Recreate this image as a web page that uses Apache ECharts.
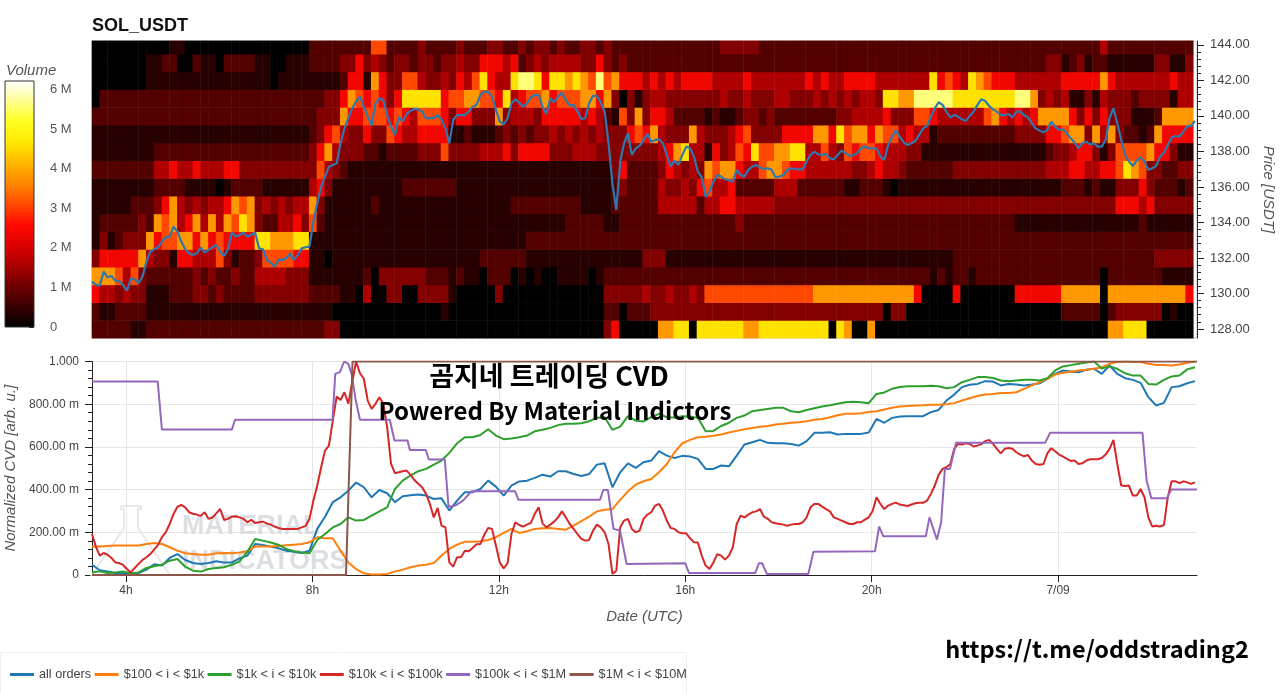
<!DOCTYPE html>
<html><head><meta charset="utf-8">
<style>html,body{margin:0;padding:0;background:#fff}#c{width:1280px;height:693px}</style>
<script src="https://cdn.jsdelivr.net/npm/echarts@6/dist/echarts.min.js"></script>
</head><body><div id="c"></div>
<script>
// Volume heat map: one list per price row; each digit is a colour level, 10-minute columns
const volumeLevels = [0, 0.35, 0.75, 1.2, 1.6, 2.4, 3.1, 3.8, 4.6, 5.6];
const priceRows = [128,129,130,131,132,133,134,135,136,137,138,139,140,141,142,143,144];
const row144 = "0000000000 1100000000 0000000022 2222226622 2232222322 2332232332 3223323222 2222222222 2333332222 2222222222 2222222222 2222222222 2222222222 4222222222 22";
const row143 = "0000000112 2002110222 2110011122 2233534323 3233233433 5554523434 4443353232 2222222222 2222222222 2222222222 2222222222 2222222222 2223312312 2111111331 13";
const row142 = "0000000111 1111111111 1110111111 1125517533 6643343546 8544899858 8787696755 5454545555 4444544444 4454544555 5444444485 6548765554 4444455555 7544444445 44";
const row141 = "0222222222 2222222222 2222222222 3357656535 8888856677 6658456675 6667757303 1344333333 3433433344 3334343434 4388779999 9888888889 9734341131 4333233331 44";
const row140 = "2222222222 2222222222 2222222223 3375566656 5466653553 3373444355 5554542163 7355422221 2112332322 2222223344 4453336654 4444467545 4577775353 5333111277 77";
const row139 = "1111111111 1111111111 1111111123 5643353365 4455551121 1123232334 3434343335 6574333743 3345633335 5557758677 5766454412 2222222223 3335567737 4732212755 55";
const row138 = "1111111122 2222222222 2222222235 7433322122 2233363333 4445355553 3344433333 3334578441 5346586677 8844643656 6544433111 1111111111 1112334553 1366667553 11";
const row137 = "2222222244 5445444553 3333333336 4321111111 1111111111 1111111111 1111111352 2223543437 6775446776 5544444433 4544322222 2333333333 3334445544 5568763322 33";
const row136 = "1111111122 2211110122 2211111145 3111111111 2222222111 1111111111 1111111232 2224334356 4452222244 4222222112 2210111111 1111111111 1111122212 1133353222 12";
const row135 = "1111122235 7434344576 7343434473 1111112111 1111111111 1111222222 2221111222 2224444424 4554444433 3333333333 3333333333 3333333333 3333333333 3355545333 33";
const row134 = "1222223276 7457474768 7322445362 1111111111 1111111111 1111111111 1222221122 2222222222 2223222222 2222222222 2222222222 2222222221 1111111111 1111121111 11";
const row133 = "1312333756 6775756555 5887778811 1111111111 1111111111 1111112222 2222222222 2222222222 2222222222 2222222222 2222222222 2222222222 2222222222 2222222222 22";
const row132 = "3555557433 1554446312 2366665511 0111111111 1111111111 2222221111 1111111111 1333111111 1111111111 1111111111 1111111111 1222222222 2222222222 2222222333 33";
const row131 = "7776463222 2223232232 2444433311 1111120333 3332221211 0222010100 1111012222 2222222222 2222222222 2222222222 2222222212 1221222222 2222222222 0222222211 11";
const row130 = "5443433111 2223323222 2333333322 2211040033 0033331000 0030000000 0000003333 3433433436 6666666666 6667777777 7777775000 0500000005 5555577777 0777777777 75";
const row129 = "2112222111 1111111111 1111111111 1000000000 0000010000 0000000000 0000002202 2233333333 3333333333 3333333333 3303300000 0000000000 0000022222 0233333301 00";
const row128 = "2222211222 2222222222 2222222222 3300000000 0000000000 0000000000 0000003500 0007788088 8888778888 8888808700 7000000000 0000000000 0000000000 0778880000 00";
const volumeRowsByPrice = [row128,row129,row130,row131,row132,row133,row134,row135,row136,row137,row138,row139,row140,row141,row142,row143,row144];
const hotColors = ['#000000','#3a0000','#700000','#aa0000','#dd0000','#ff0a00','#ff4a00','#ff8800','#ffb800','#ffe800','#ffff20','#ffff90','#ffffff'];

// Price (USDT), every 5 minutes
const price = [130.67,130.48,130.44,131.23,130.91,130.98,130.72,130.68,130.48,130.16,130.83,130.80,130.57,130.95,131.79,132.35,132.49,132.60,132.92,133.16,133.20,133.76,133.48,132.92,132.49,132.26,132.17,132.26,132.60,132.30,132.45,132.60,132.73,132.35,132.11,132.49,133.43,133.20,133.29,133.43,133.20,133.29,133.43,132.54,132.49,131.89,131.74,131.51,131.89,131.89,131.98,132.26,131.89,132.17,132.54,132.60,132.64,134.05,135.08,136.02,136.58,137.14,137.24,137.33,138.46,139.30,139.87,140.43,140.81,141.09,140.52,139.96,139.49,140.71,141.00,140.90,140.05,139.40,138.93,139.96,139.68,140.11,140.28,140.39,140.37,140.24,139.87,139.87,139.87,140.05,139.77,139.30,138.46,139.77,140.05,140.05,140.05,140.24,
140.52,140.62,141.18,141.37,141.37,141.09,140.34,139.68,139.53,139.87,140.71,140.94,140.75,140.52,140.71,141.05,141.18,141.18,140.52,140.11,141.00,140.77,141.09,141.31,140.90,140.58,140.62,140.24,139.83,139.87,140.71,141.13,141.13,140.75,140.24,138.46,136.20,134.70,137.43,138.46,139.02,137.80,138.18,138.31,138.65,138.98,138.55,138.65,138.68,138.46,137.80,137.14,137.48,137.24,137.80,138.27,138.18,137.71,136.86,136.54,135.45,135.74,136.30,136.67,136.58,136.43,136.39,136.30,136.96,136.67,136.58,136.96,137.14,137.24,137.09,137.01,137.05,136.96,136.54,136.58,136.67,136.96,137.05,137.01,136.99,136.99,137.43,137.80,137.99,137.84,137.80,137.86,137.61,137.56,137.80,138.05,137.90,137.76,
137.78,137.90,138.18,138.27,138.18,138.18,138.18,137.71,137.52,138.36,138.83,139.17,138.83,138.51,138.36,138.46,138.59,138.93,139.30,139.43,139.96,140.43,140.77,140.62,140.24,139.92,140.05,139.96,139.81,139.72,140.00,140.24,140.62,140.94,140.84,140.56,140.37,140.24,140.05,140.05,140.11,139.92,140.24,140.24,140.05,139.92,139.59,139.30,139.17,139.08,139.21,139.68,139.40,139.21,139.25,139.02,138.74,138.50,138.18,138.46,138.55,138.40,138.46,138.27,138.27,138.65,139.87,140.43,139.59,138.65,137.80,137.43,137.18,137.48,137.67,137.43,136.96,137.05,137.18,137.71,137.93,138.36,138.78,138.87,138.83,139.12,139.43,139.43,139.72];

// CVD series in milli-units; $10k band every 5 minutes, the others every 10 minutes
const cvd10k = [192,133,91,103,95,80,59,56,47,28,12,33,52,70,83,98,119,141,177,200,239,286,320,328,317,294,287,283,277,294,263,269,289,309,258,263,273,275,270,263,247,258,244,247,250,242,236,227,220,216,216,216,216,216,223,230,263,348,419,505,583,606,723,836,820,856,802,903,1000,945,919,817,778,802,833,802,692,520,477,481,486,489,470,445,427,411,380,333,270,314,231,223,59,39,83,83,114,
111,127,144,145,188,220,216,138,59,31,55,192,247,234,227,236,244,286,317,242,223,236,250,270,298,270,239,216,192,169,161,164,208,236,223,200,145,5,20,223,255,263,216,200,208,263,283,294,325,333,302,255,220,216,200,195,195,172,153,152,91,44,28,59,98,91,72,91,130,239,278,270,283,294,298,309,273,263,247,242,239,236,231,236,239,239,247,270,317,333,333,320,309,298,270,263,255,
247,239,239,247,247,259,270,300,364,333,309,325,333,339,330,327,323,330,336,338,338,348,380,419,469,497,505,520,591,614,611,617,614,602,606,613,627,633,614,591,570,591,595,591,575,564,556,562,536,520,516,520,570,594,580,564,555,544,534,536,520,523,536,542,542,542,548,564,591,633,520,419,417,419,372,372,403,364,270,227,231,227,234,364,439,439,430,439,434,427,434];
const cvdAll = [48,22,16,9,8,5,9,25,50,44,80,98,70,56,52,56,64,59,59,78,91,145,141,133,125,114,109,103,114,216,273,341,364,395,433,411,364,398,383,341,369,373,377,372,356,359,302,348,388,
388,403,442,414,372,419,438,442,455,470,461,486,486,473,464,473,517,523,411,481,523,502,528,536,580,559,548,558,555,544,497,497,513,509,559,611,622,633,619,617,617,614,606,627,666,666,669,658,661,
661,661,667,731,713,736,742,744,744,744,763,773,817,845,880,891,895,908,906,888,895,892,888,892,898,919,942,958,953,950,961,966,942,981,942,922,914,900,833,794,806,880,884,898,908];
const cvd100 = [134,134,136,138,138,138,138,145,150,145,130,114,102,98,95,95,102,103,102,105,111,133,133,133,136,139,142,145,153,177,172,172,114,59,28,8,2,2,5,17,25,36,44,48,56,91,122,142,156,
156,158,164,177,197,216,197,205,216,219,220,216,212,231,252,273,298,306,309,352,392,423,439,450,481,520,575,617,633,645,648,652,658,667,675,683,689,694,698,705,708,713,716,720,727,731,739,748,755,
755,758,763,767,775,783,789,792,794,795,797,798,800,805,817,828,838,845,848,852,853,856,872,888,903,919,939,947,952,958,961,966,973,989,997,1000,998,998,989,984,984,981,986,994,1000];
const cvd1k = [12,17,9,12,17,8,12,33,41,48,67,75,39,20,16,28,33,36,48,64,109,169,161,152,142,122,111,106,102,164,192,223,239,270,255,258,278,298,317,403,442,466,486,497,517,536,572,617,645,
645,656,683,653,636,639,645,653,673,680,689,702,708,709,711,720,736,739,680,695,744,723,719,739,755,739,738,744,742,736,673,675,698,713,736,747,767,773,778,783,783,767,762,773,781,789,795,802,809,
811,809,805,848,855,872,881,884,884,884,886,884,875,880,903,914,927,927,923,911,908,911,914,914,911,922,958,977,983,989,995,1000,967,977,966,945,934,934,895,892,914,930,934,963,973];
// Step-like bands as [hour UTC, milli-units]
const cvd100k = [[3.27,906],[4.68,906],[4.77,681],[6.27,681],[6.34,727],[8.43,727],[8.49,942],[8.59,950],[8.68,1000],[8.77,989],[8.84,942],[8.93,817],[9.02,727],[9.66,727],[9.76,630],[10.04,630],[10.09,586],[10.43,586],[10.5,541],[10.84,541],[10.92,320],[11.06,325],[11.23,348],[11.41,392],[12.35,392],[12.42,352],[14.17,352],[14.24,398],[14.34,398],[14.46,216],[14.6,208],[14.74,52],[16,55],[16.08,9],[17.5,9],[17.58,55],[17.65,55],[17.75,5],[18.64,5],[18.75,109],[20.07,111],[20.16,227],[20.25,181],[21.16,181],[21.24,270],[21.4,166],[21.49,247],[21.57,497],[21.68,497],[21.81,619],[23.72,619],[23.83,666],[25.81,666],[25.9,442],[26,359],[26.33,359],[26.43,400],[26.98,400]];
const cvd1M = [[3.27,0],[8.72,0],[8.86,1000],[26.98,1000]];

const seriesNames = ['all orders','$100 < i < $1k','$1k < i < $10k','$10k < i < $100k','$100k < i < $1M','$1M < i < $10M'];
const seriesColors = ['#1f77b4','#ff7f0e','#2ca02c','#d62728','#9467bd','#8c564b'];
const timeTicks = [4,8,12,16,20,24];
const timeLabels = {4:'4h',8:'8h',12:'12h',16:'16h',20:'20h',24:'7/09'};
const priceTicks = [128,130,132,134,136,138,140,142,144];
const priceMinorTicks = [128.4,128.8,129.2,129.6,130.4,130.8,131.2,131.6,132.4,132.8,133.2,133.6,134.4,134.8,135.2,135.6,136.4,136.8,137.2,137.6,138.4,138.8,139.2,139.6,140.4,140.8,141.2,141.6,142.4,142.8,143.2,143.6];
const volumeTicks = [0,1,2,3,4,5,6];

const T0 = 3.27, T1 = 26.98, VOL_MAX = 6.22;
const FONT = '"Liberation Sans", Arial, sans-serif';
const GREY = '#444';

const slots = Array.from({length:142},(_,i)=>String(i));
const heatData = [];
volumeRowsByPrice.forEach((r,y)=>{
  r.replace(/ /g,'').split('').forEach((d,x)=>heatData.push([x,y,volumeLevels[+d]]));
});
const at = (arr,stepH)=>arr.map((v,i)=>[T0+i*stepH,v]);
const milli = arr=>arr.map(p=>[p[0],p[1]/1000]);
const line = (i,data)=>({name:seriesNames[i],type:'line',xAxisIndex:2,yAxisIndex:3,data,showSymbol:false,symbol:'none',
  lineStyle:{color:seriesColors[i],width:2},itemStyle:{color:seriesColors[i]},z:5+i,animation:false});

const chart = echarts.init(document.getElementById('c'),null,{renderer:'canvas'});
chart.setOption({
  animation:false,
  backgroundColor:'#fff',
  textStyle:{fontFamily:FONT},
  title:{text:'SOL_USDT',left:92,top:17,padding:0,textStyle:{fontSize:18,fontWeight:'bold',color:'#111',fontFamily:FONT}},
  visualMap:{show:false,seriesIndex:0,dimension:2,min:0,max:VOL_MAX,inRange:{color:hotColors}},
  legend:{left:10,top:668,padding:0,icon:'rect',itemWidth:24,itemHeight:3,itemGap:3.5,data:seriesNames,
    textStyle:{fontSize:12.7,color:GREY,fontFamily:FONT},selectedMode:false},
  grid:[
    {left:92,top:36.45,width:1101.3,height:301.75,show:false,outerBoundsMode:'none'},
    {left:92,top:41,width:1105,height:297,show:true,borderColor:'#c4c4c4',borderWidth:1,backgroundColor:'transparent',outerBoundsMode:'none'},
    {left:92,top:361.5,width:1105,height:213.5,show:false,outerBoundsMode:'none'},
    {left:5,top:81,width:29,height:246,show:true,borderColor:'#333',borderWidth:1,z:6,outerBoundsMode:'none'}
  ],
  xAxis:[
    {gridIndex:0,type:'category',data:slots,show:false},
    {gridIndex:1,type:'value',min:T0,max:T1,show:false},
    {gridIndex:2,type:'value',min:T0,max:T1,
      axisLine:{show:true,onZero:false,lineStyle:{color:'#222'}},
      axisTick:{show:true,length:7,customValues:timeTicks,lineStyle:{color:'#222'}},
      axisLabel:{customValues:timeTicks,formatter:v=>timeLabels[v]||'',color:GREY,fontSize:12,margin:10,fontFamily:FONT},
      splitLine:{show:true,lineStyle:{color:'#e6e6e6',width:1}},
      name:'Date (UTC)',nameLocation:'middle',nameGap:34,
      nameTextStyle:{fontStyle:'italic',color:'#555',fontSize:15,fontFamily:FONT}},
    {gridIndex:3,type:'category',data:['Volume'],show:false}
  ],
  yAxis:[
    {gridIndex:0,type:'category',data:priceRows.map(String),show:false},
    {gridIndex:1,type:'value',position:'right',min:127.49,max:144.22,
      axisLine:{show:true,lineStyle:{color:'#222'}},
      axisTick:{show:true,length:7,customValues:priceTicks,lineStyle:{color:'#222'}},
      axisLabel:{customValues:priceTicks,formatter:v=>v.toFixed(2),color:GREY,fontSize:13,margin:13,fontFamily:FONT},
      splitLine:{show:false},
      name:'Price [USDT]',nameLocation:'middle',nameRotate:-90,nameGap:63,
      nameTextStyle:{fontStyle:'italic',color:'#555',fontSize:15,fontFamily:FONT}},
    {gridIndex:1,type:'value',position:'right',min:127.49,max:144.22,
      axisLine:{show:false},
      axisTick:{show:true,length:4,customValues:priceMinorTicks,lineStyle:{color:'#222'}},
      axisLabel:{show:false},splitLine:{show:false}},
    {gridIndex:2,type:'value',min:0,max:1,interval:0.2,
      axisLine:{show:true,lineStyle:{color:'#222'}},
      axisTick:{show:true,length:7,lineStyle:{color:'#222'}},
      minorTick:{show:true,splitNumber:5,length:4,lineStyle:{color:'#222'}},
      axisLabel:{formatter:v=>v===0?'0':(Math.abs(v-1)<1e-6?'1.000':(v*1000).toFixed(2)+' m'),color:GREY,fontSize:12,margin:13,fontFamily:FONT},
      splitLine:{show:true,lineStyle:{color:'#e6e6e6',width:1}},
      name:'Normalized CVD [arb. u.]',nameLocation:'middle',nameRotate:90,nameGap:74,
      nameTextStyle:{fontStyle:'italic',color:'#555',fontSize:15,fontFamily:FONT}},
    {gridIndex:3,type:'value',position:'right',min:0,max:VOL_MAX,
      axisLine:{show:false},
      axisTick:{show:true,inside:true,length:5,customValues:volumeTicks,lineStyle:{color:'#222'}},
      axisLabel:{customValues:volumeTicks,formatter:v=>v===0?'0':v+' M',color:'#555',fontSize:13,margin:16,fontFamily:FONT},
      splitLine:{show:false}}
  ],
  series:[
    {type:'heatmap',xAxisIndex:0,yAxisIndex:0,data:heatData,progressive:0,itemStyle:{borderWidth:0},emphasis:{disabled:true},z:2},
    {name:'price',type:'line',xAxisIndex:1,yAxisIndex:1,data:at(price,1/12),showSymbol:false,symbol:'none',
      lineStyle:{color:'#2f78ad',width:2.2},z:5},
    line(0,milli(at(cvdAll,1/6))),
    line(1,milli(at(cvd100,1/6))),
    line(2,milli(at(cvd1k,1/6))),
    line(3,milli(at(cvd10k,1/12))),
    line(4,milli(cvd100k)),
    line(5,milli(cvd1M)),
    {type:'bar',xAxisIndex:3,yAxisIndex:4,barWidth:'100%',silent:true,data:[VOL_MAX],
      itemStyle:{color:{type:'linear',x:0,y:1,x2:0,y2:0,colorStops:hotColors.map((c,i)=>({offset:i/(hotColors.length-1),color:c}))}},z:2}
  ],
  graphic:[
    {type:'rect',shape:{x:88,y:35,width:1112,height:5.5},style:{fill:'#fff'},z:40,silent:true},
    {type:'rect',shape:{x:0.5,y:652.5,width:686,height:45},style:{fill:'#fff',stroke:'#f0f0f0',lineWidth:1},z:-1,silent:true},
    {type:'polyline',shape:{points:[[121,506],[121,509],[124,509],[124,528],[92,575],[170,575],[138,528],[138,509],[141,509],[141,506],[121,506]]},
      style:{stroke:'#e8e8e8',fill:null,lineWidth:2},z:1,silent:true},
    {type:'text',style:{x:182,y:513,text:'MATERIAL',fill:'#dcdfe2',font:'bold 27px '+FONT},z:1,silent:true},
    {type:'text',style:{x:182,y:548,text:'INDICATORS',fill:'#dcdfe2',font:'bold 27px '+FONT},z:1,silent:true},
    {type:'text',style:{x:6,y:63,text:'Volume',fill:'#555',font:'italic 15px '+FONT},z:30,silent:true},
    {type:'text',style:{x:549,y:376,text:'곰지네 트레이딩 CVD',fill:'#000',align:'center',verticalAlign:'middle',font:'bold 27px "Noto Sans CJK KR"'},z:60,silent:true},
    {type:'text',style:{x:555,y:411,text:'Powered By Material Indictors',fill:'#000',align:'center',verticalAlign:'middle',font:'bold 24px "Noto Sans CJK KR"'},z:60,silent:true},
    {type:'text',style:{x:1097,y:649,text:'https://t.me/oddstrading2',fill:'#000',align:'center',verticalAlign:'middle',font:'bold 23.5px "Noto Sans CJK KR"'},z:60,silent:true}
  ]
});
</script></body></html>
